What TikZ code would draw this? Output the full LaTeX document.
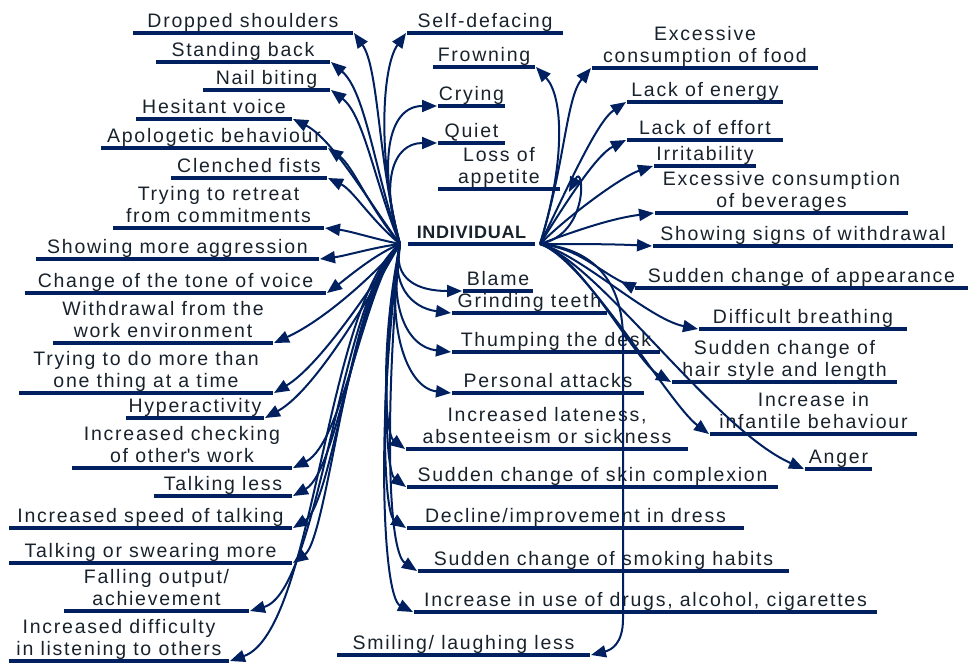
\documentclass[tikz,border=0pt]{standalone}
\usepackage{fontspec}
\setmainfont{Liberation Sans}[LetterSpace=9]
\usetikzlibrary{arrows.meta}
\definecolor{navy}{HTML}{002060}
\definecolor{txt}{HTML}{18222C}
\newcommand\twoline[2]{\begin{tabular}[b]{@{}c@{}}#1\\#2\end{tabular}}
\newcommand\mylab[5]{%
  \draw[ul] (#2,#4) -- (#3,#4);
  \node[lbl] (#1) at ({(#2+#3)/2},{#4-5.5}) {#5};
  \coordinate (#1-w) at ({#2-1},#4);
  \coordinate (#1-e) at ({#3+1},#4);}
\newcommand\conn[4]{\draw[arr] (#1) .. controls +(#2) and +(#3) .. (#4);}
\tikzset{
  ln/.style={draw=navy, line width=2pt},
  arr/.style={ln, -{Triangle[length=15pt,width=12pt]}},
  ul/.style={draw=navy, line width=4.8pt},
  lbl/.style={text=txt, font=\fontsize{19.5}{22}\selectfont, inner sep=0pt, anchor=base},
}
\begin{document}
\begin{tikzpicture}[x=1pt,y=-1pt]
\useasboundingbox (0,0) rectangle (968,664);
% centre
\draw[ul] (408,244) -- (535,244);
\node[lbl, font=\fontsize{18}{20}\selectfont\bfseries\addfontfeature{LetterSpace=4}] (ind) at (471.5,238.5) {INDIVIDUAL};
\coordinate (ind-l) at (400,244);
\coordinate (ind-r) at (540,244);
% left labels
\mylab{ds}{133}{353}{33}{Dropped shoulders}
\mylab{sb}{156}{330}{62}{Standing back}
\mylab{nb}{203}{330}{90}{Nail biting}
\mylab{hv}{136}{292}{119}{Hesitant voice}
\mylab{ab}{101}{327}{148}{Apologetic behaviour}
\mylab{cf}{171}{327}{178}{Clenched fists}
\mylab{tr}{113}{324}{228}{\twoline{Trying to retreat}{from commitments}}
\mylab{sa}{36}{319}{259}{Showing more aggression}
\mylab{ct}{25}{326}{293}{Change of the tone of voice}
\mylab{wd}{53}{273}{343}{\twoline{Withdrawal from the}{work environment}}
\mylab{td}{19}{273}{393}{\twoline{Trying to do more than}{one thing at a time}}
\mylab{hy}{126}{264}{418}{Hyperactivity}
\mylab{ic}{72}{292}{468}{\twoline{Increased checking}{of other\textquotesingle s work}}
\mylab{tl}{154}{292}{496}{Talking less}
\mylab{is}{9}{292}{528}{Increased speed of talking}
\mylab{ts}{9}{292}{563}{Talking or swearing more}
\mylab{fo}{64}{249}{611}{\twoline{Falling output/}{achievement}}
\mylab{id}{9}{229}{661}{\twoline{Increased difficulty}{in listening to others}}
% top centre
\mylab{sd}{407}{563}{33}{Self-defacing}
\mylab{fr}{433}{535}{67}{Frowning}
\mylab{cr}{438}{505}{106}{Crying}
\mylab{qu}{438}{505}{143}{Quiet}
\mylab{la}{438}{560}{189}{\twoline{Loss of}{appetite}}
% right
\mylab{ef}{592}{818}{68}{\twoline{Excessive}{consumption of food}}
\mylab{le}{627}{783}{102}{Lack of energy}
\mylab{lf}{627}{783}{140}{Lack of effort}
\mylab{ir}{654}{756}{166}{Irritability}
\mylab{eb}{655}{908}{213}{\twoline{Excessive consumption}{of beverages}}
\mylab{sw}{653}{953}{246}{Showing signs of withdrawal}
\mylab{ap}{635}{968}{288}{Sudden change of appearance}
\mylab{db}{699}{907}{329}{Difficult breathing}
\mylab{hs}{672}{897}{382}{\twoline{Sudden change of}{hair style and length}}
\mylab{ib}{710}{917}{434}{\twoline{Increase in}{infantile behaviour}}
\mylab{an}{805}{872}{469}{Anger}
% bottom centre
\mylab{bl}{463}{533}{291}{Blame}
\mylab{gt}{452}{607}{313}{Grinding teeth}
\mylab{th}{452}{660}{352}{Thumping the desk}
\mylab{pa}{452}{644}{393}{Personal attacks}
\mylab{il}{406}{688}{449}{\twoline{Increased lateness,}{absenteeism or sickness}}
\mylab{sc}{407}{778}{487}{Sudden change of skin complexion}
\mylab{dd}{407}{744}{528}{Decline/improvement in dress}
\mylab{sh}{418}{789}{571}{Sudden change of smoking habits}
\mylab{du}{414}{877}{612}{Increase in use of drugs, alcohol, cigarettes}
\mylab{sl}{337}{590}{655}{Smiling/ laughing less}
% connectors, left
\conn{ind-l}{-22,-80}{25,35}{ds-e}
\conn{ind-l}{-25,-70}{35,30}{sb-e}
\conn{ind-l}{-25,-60}{33,25}{nb-e}
\conn{ind-l}{-30,-40}{40,20}{hv-e}
\conn{ind-l}{-30,-35}{25,18}{ab-e}
\conn{ind-l}{-30,-25}{25,12}{cf-e}
\conn{ind-l}{-25,-5}{25,3}{tr-e}
\conn{ind-l}{-25,3}{25,-3}{sa-e}
\conn{ind-l}{-25,10}{20,-15}{ct-e}
\conn{ind-l}{-15,20}{55,-25}{wd-e}
\conn{ind-l}{-15,22}{50,-30}{td-e}
\conn{ind-l}{-15,25}{55,-30}{hy-e}
\conn{ind-l}{-35,40}{50,-25}{ic-e}
\conn{ind-l}{-40,40}{45,-25}{tl-e}
\conn{ind-l}{-45,40}{40,-25}{is-e}
\conn{ind-l}{-50,40}{35,-25}{ts-e}
\conn{ind-l}{-60,50}{70,-20}{fo-e}
\conn{ind-l}{-75,60}{85,-30}{id-e}
% connectors, top centre
\conn{ind-l}{-22,-80}{-25,35}{sd-w}
\conn{ind-l}{-22,-80}{-50,0}{cr-w}
\conn{ind-l}{-20,-60}{-45,0}{qu-w}
% connectors, bottom centre
\conn{ind-l}{-8,35}{-45,0}{bl-w}
\conn{ind-l}{-10,40}{-40,-5}{gt-w}
\conn{ind-l}{-12,60}{-45,-5}{th-w}
\conn{ind-l}{-15,80}{-45,-5}{pa-w}
\conn{ind-l}{-20,100}{-20,-15}{il-w}
\conn{ind-l}{-20,120}{-20,-15}{sc-w}
\conn{ind-l}{-22,140}{-22,-15}{dd-w}
\conn{ind-l}{-15,160}{-30,-20}{sh-w}
\conn{ind-l}{-25,180}{-30,-15}{du-w}
% connectors, right
\conn{ind-r}{25,-80}{28,30}{fr-e}
\conn{ind-r}{25,-80}{-25,30}{ef-w}
\draw[arr] (ind-r) .. controls +(50,-10) and +(15,-30) .. ([shift={(8,3)}]la-e);
\conn{ind-r}{25,-50}{-30,20}{le-w}
\conn{ind-r}{25,-40}{-30,15}{lf-w}
\conn{ind-r}{30,-30}{-30,10}{ir-w}
\conn{ind-r}{40,-15}{-40,5}{eb-w}
\conn{ind-r}{40,0}{-40,-2}{sw-w}
\draw[ln, -{Triangle[length=15pt,width=12pt,reversed]}] (ind-r) .. controls +(40,5) and +(-40,-20) .. (ap-w);
\conn{ind-r}{40,10}{-50,-10}{db-w}
\conn{ind-r}{40,10}{-35,-20}{hs-w}
\conn{ind-r}{45,15}{-40,-30}{ib-w}
\conn{ind-r}{60,20}{-90,-40}{an-w}
\draw[arr] (ind-r) .. controls +(60,5) and +(0,-50) .. ++(83,95) -- ++(0,280) .. controls +(0,25) and +(20,-5) .. (sl-e);
\end{tikzpicture}
\end{document}
